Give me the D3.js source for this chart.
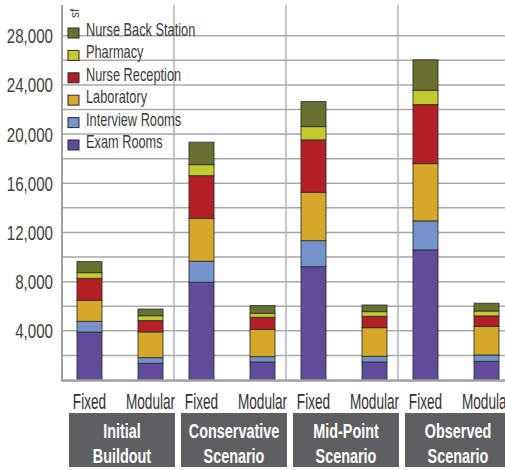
<!DOCTYPE html>
<html>
<head>
<meta charset="utf-8">
<script src="https://cdn.jsdelivr.net/npm/d3@7"></script>
<style>
  html, body { margin: 0; padding: 0; background: #fff; }
  svg { display: block; }
  text { font-family: "Liberation Sans", Arial, sans-serif; }
</style>
</head>
<body>
<svg id="chart" width="505" height="470"></svg>
<script>
// ---- data ----
const scenarios = ["Initial Buildout", "Conservative Scenario", "Mid-Point Scenario", "Observed Scenario"];
const scenarioLines = [["Initial", "Buildout"], ["Conservative", "Scenario"], ["Mid-Point", "Scenario"], ["Observed", "Scenario"]];
const types = ["Fixed", "Modular"];
const seriesNames = ["Exam Rooms", "Interview Rooms", "Laboratory", "Nurse Reception", "Pharmacy", "Nurse Back Station"];
const seriesColors = ["#614c9b", "#7593cb", "#d5a82a", "#b31f25", "#c3cb30", "#6a7031"];
// order: Initial Fixed, Initial Modular, Conservative Fixed, Conservative Modular, Mid-Point Fixed, Mid-Point Modular, Observed Fixed, Observed Modular
const examRooms        = [3900, 1360, 7950, 1465, 9220, 1465, 10580, 1520];
const interviewRooms   = [870,  460,  1710, 435,  2115, 460,  2360,  515];
const laboratory       = [1710, 2090, 3490, 2220, 3935, 2335, 4660,  2330];
const nurseReception   = [1790, 920,  3470, 980,  4260, 920,  4800,  845];
const pharmacy         = [460,  400,  900,  325,  1080, 380,  1170,  405];
const nurseBackStation = [900,  540,  1820, 625,  2035, 540,  2470,  625];
const tickValues = [4000, 8000, 12000, 16000, 20000, 24000, 28000];
const gridValues = [2000, 4000, 6000, 8000, 10000, 12000, 14000, 16000, 18000, 20000, 22000, 24000, 26000, 28000];
const yMax = 30500;

(function () {
// ---- build table ----
const seriesValues = [examRooms, interviewRooms, laboratory, nurseReception, pharmacy, nurseBackStation];
const rows = [];
scenarios.forEach((s, i) => types.forEach((t, j) => {
  const row = { scenario: s, type: t };
  seriesNames.forEach((n, k) => row[n] = seriesValues[k][i * 2 + j]);
  rows.push(row);
}));

const svg = d3.select("#chart");
const mLeft = 62, mBottom = 380, mTop = 5;

const x0 = d3.scaleBand().domain(scenarios).range([mLeft, mLeft + 448]).padding(0);
const x1 = d3.scaleBand().domain(types).range([0, x0.bandwidth()])
  .paddingInner(0.59).paddingOuter(0.213).align(0.577);
const y = d3.scaleLinear().domain([0, yMax]).range([mBottom, mTop]);
const color = d3.scaleOrdinal().domain(seriesNames).range(seriesColors);

// condensed text: place at (x,y) and compress horizontally
function ctext(parent, x, yy, f, str) {
  return parent.append("text")
    .attr("transform", `translate(${x},${yy}) scale(${f},1)`)
    .text(str);
}

// grid
svg.append("g").selectAll("line").data(gridValues).join("line")
  .attr("x1", mLeft).attr("x2", 505)
  .attr("y1", d => y(d)).attr("y2", d => y(d))
  .attr("stroke", "#a9a9a9").attr("stroke-width", 1.5);
svg.append("g").selectAll("line").data(scenarios.slice(1)).join("line")
  .attr("x1", d => x0(d)).attr("x2", d => x0(d))
  .attr("y1", mTop).attr("y2", mBottom)
  .attr("stroke", "#b3b3b3").attr("stroke-width", 1.5);

// bars
const stack = d3.stack().keys(seriesNames)(rows);
const layer = svg.append("g").selectAll("g").data(stack).join("g")
  .attr("fill", d => color(d.key));
layer.selectAll("rect").data(d => d).join("rect")
  .attr("x", d => x0(d.data.scenario) + x1(d.data.type))
  .attr("width", x1.bandwidth())
  .attr("y", d => y(d[1]))
  .attr("height", d => y(d[0]) - y(d[1]))
  .attr("stroke", "#2b2b2b").attr("stroke-opacity", 0.85).attr("stroke-width", 1);

// axes lines
svg.append("line").attr("x1", mLeft).attr("x2", mLeft).attr("y1", mTop).attr("y2", mBottom + 1.5)
  .attr("stroke", "#a0a0a0").attr("stroke-width", 2);
svg.append("line").attr("x1", mLeft).attr("x2", 505).attr("y1", mBottom + 0.5).attr("y2", mBottom + 0.5)
  .attr("stroke", "#a0a0a0").attr("stroke-width", 2.5);

// y tick labels
const gy = svg.append("g").attr("font-size", 21).attr("fill", "#3f3f3f").attr("text-anchor", "end");
tickValues.forEach(v => ctext(gy, 53, y(v) + 7.5, 0.72, d3.format(",")(v)));

// unit label (rotated, clipped)
svg.append("text").attr("transform", "translate(79,18) rotate(-90)")
  .attr("font-size", 12).attr("fill", "#444").text("sf");

// legend
const legendOrder = seriesNames.slice().reverse();
const lg = svg.append("g").selectAll("g").data(legendOrder).join("g")
  .attr("transform", (d, i) => `translate(68,${33 + i * 22.4})`);
lg.append("rect").attr("x", 0).attr("y", -5).attr("width", 11).attr("height", 10)
  .attr("fill", d => color(d)).attr("stroke", "#2b2b2b").attr("stroke-width", 1);
lg.each(function (d) {
  ctext(d3.select(this), 18, 3, 0.71, d).attr("font-size", 18).attr("fill", "#3a3a3a");
});

// type labels
const gt = svg.append("g").attr("font-size", 22).attr("fill", "#333").attr("text-anchor", "middle");
rows.forEach(r => ctext(gt, x0(r.scenario) + x1(r.type) + x1.bandwidth() / 2, 409, 0.62, r.type));

// scenario boxes
const sb = svg.append("g").selectAll("g").data(scenarios).join("g")
  .attr("transform", d => `translate(${x0(d)},0)`);
sb.append("rect").attr("x", 7).attr("y", 413).attr("width", x0.bandwidth() - 6).attr("height", 54)
  .attr("fill", "#5f5f61");
sb.each(function (d, i) {
  const g = d3.select(this).append("g")
    .attr("font-size", 20).attr("font-weight", "bold").attr("fill", "#fff").attr("text-anchor", "middle");
  scenarioLines[i].forEach((line, k) => {
    ctext(g, 7 + (x0.bandwidth() - 6) / 2, 437.5 + k * 25, 0.72, line);
  });
});
})();
</script>
</body>
</html>
